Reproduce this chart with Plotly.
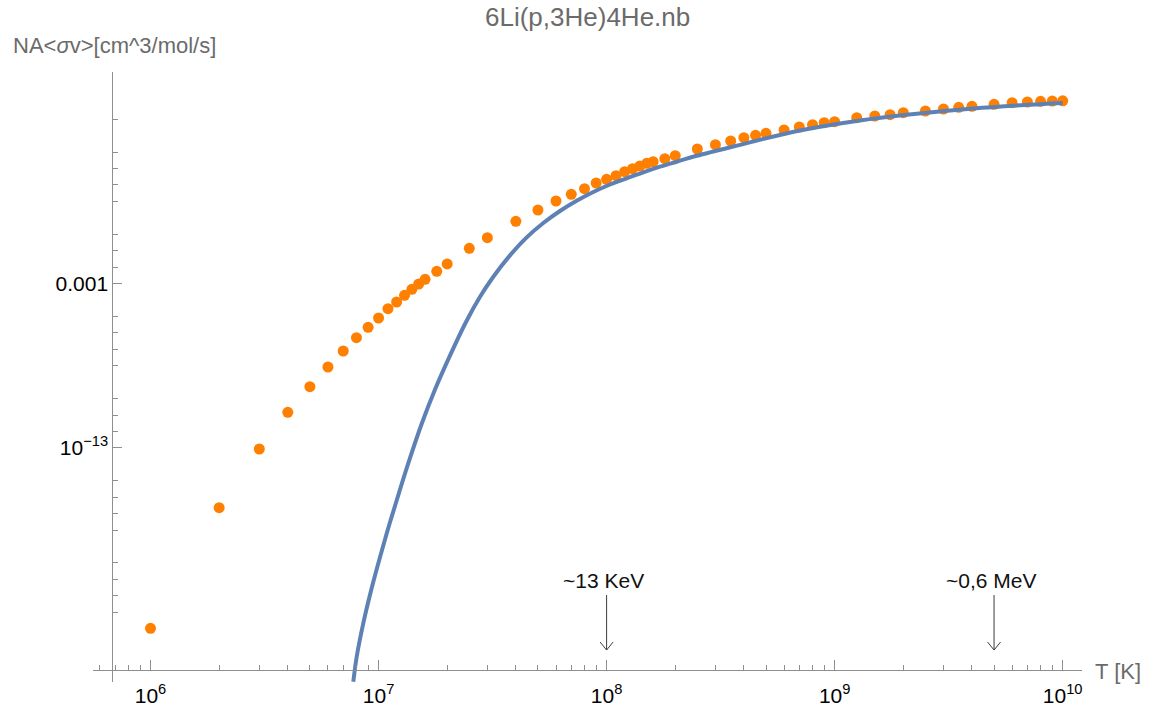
import numpy as np
import plotly.graph_objects as go

# Tabulated reaction rate NA<σv> [cm^3/mol/s] versus temperature T [K]
T_table = [1e6, 2e6, 3e6, 4e6, 5e6, 6e6, 7e6, 8e6, 9e6,
           1.0e7, 1.1e7, 1.2e7, 1.3e7, 1.4e7, 1.5e7, 1.6e7, 1.8e7, 2.0e7, 2.5e7,
           3e7, 4e7, 5e7, 6e7, 7e7, 8e7, 9e7,
           1.0e8, 1.1e8, 1.2e8, 1.3e8, 1.4e8, 1.5e8, 1.6e8, 1.8e8, 2.0e8, 2.5e8,
           3.0e8, 3.5e8, 4.0e8, 4.5e8, 5e8, 6e8, 7e8, 8e8, 9e8,
           1.0e9, 1.25e9, 1.5e9, 1.75e9, 2.0e9, 2.5e9, 3.0e9, 3.5e9, 4.0e9,
           5e9, 6e9, 7e9, 8e9, 9e9, 1e10]
rate_table = [1.05e-24, 2.3e-17, 8.6e-14, 1.47e-11, 5.3e-10, 8.4e-9, 7.9e-8, 5.1e-7, 2.19e-6,
              8.05e-6, 2.96e-5, 7.57e-5, 1.94e-4, 4.49e-4, 9.44e-4, 1.82e-3, 5.6e-3, 1.56e-2, 0.140,
              0.619, 6.17, 30.1, 106, 271, 594, 1320,
              2220, 3670, 6440, 9800, 1.43e4, 2.09e4, 2.61e4, 3.98e4, 6.05e4, 1.55e5,
              2.83e5, 4.75e5, 7.55e5, 1.06e6, 1.40e6, 2.22e6, 3.38e6, 4.67e6, 6.17e6,
              7.10e6, 1.24e7, 1.58e7, 1.89e7, 2.51e7, 3.18e7, 4.21e7, 5.33e7, 6.14e7,
              8.13e7, 1.02e8, 1.12e8, 1.24e8, 1.28e8, 1.32e8]

# Fitted rate curve, sampled along T
T_fit = [7.75e6, 8.02e6, 8.57e6, 9.285e6, 1.016e7, 1.119e7, 1.240e7, 1.380e7, 1.549e7,
         1.765e7, 2.047e7, 2.418e7, 2.786e7, 3.186e7, 3.771e7, 4.463e7, 5.278e7, 6.247e7,
         7.392e7, 8.745e7, 1.035e8, 1.225e8, 1.448e8, 1.715e8, 2.030e8, 2.484e8, 3.594e8,
         7.047e8, 1.292e9, 2.070e9, 4.055e9, 7.95e9, 1e10]
rate_fit = [5.93e-28, 1.97e-26, 2.12e-24, 2.26e-22, 2.40e-20, 2.59e-18, 2.75e-16, 2.92e-14, 3.15e-12,
            3.34e-10, 3.56e-8, 4.59e-6, 1.57e-4, 2.59e-3, 5.19e-2, 0.647, 4.86, 26.1,
            109, 374, 1070, 2550, 5920, 1.30e4, 2.61e4, 5.97e4, 2.20e5,
            2.07e6, 8.40e6, 1.87e7, 4.51e7, 8.24e7, 9.75e7]

x_ticks = [1e6, 1e7, 1e8, 1e9, 1e10]
x_tick_text = ["10<sup>6</sup>", "10<sup>7</sup>", "10<sup>8</sup>", "10<sup>9</sup>", "10<sup>10</sup>"]
x_minor = [m * 10 ** k for k in range(5, 10) for m in range(2, 10)]

y_ticks = [1e-13, 1e-3]
y_tick_text = ["10<sup>\u221213</sup>", "0.001"]
y_minor_exp = [-23, -22, -21, -20, -18, -17, -16, -15, -12, -11, -10, -8, -7, -6, -5,
               -2, -1, 0, 2, 3, 4, 5, 7]
y_minor = [10.0 ** e for e in y_minor_exp]

# Energy markers on the temperature axis
marker_T = [1e8, 5e9]
marker_text = ["~13 KeV", "~0,6 MeV"]
arrow_tip = 10 ** -25.3

# Page geometry
W, H = 1155, 711
ML, MR, MT, MB = 93, 73, 72, 29
PW, PH = W - ML - MR, H - MT - MB


def px(x):
    return (x - ML) / PW


def py(y):
    return (H - MB - y) / PH


FONT = "Liberation Sans, Arial, Helvetica, sans-serif"
AXIS_GREY = "#8f8f8f"
LABEL_GREY = "#6b6b6b"

fig = go.Figure()
fig.add_trace(go.Scatter(
    x=T_table, y=rate_table, mode="markers",
    marker=dict(color="#FF8000", size=11, line=dict(width=0)),
    showlegend=False, cliponaxis=False,
))
fig.add_trace(go.Scatter(
    x=T_fit, y=rate_fit, mode="lines",
    line=dict(color="#5E81B5", width=4, shape="spline", smoothing=1.0),
    showlegend=False,
))

shapes = []
annotations = []
for T, label in zip(marker_T, marker_text):
    shapes.append(dict(
        type="path", xref="x", yref="y", xsizemode="pixel", ysizemode="pixel",
        xanchor=T, yanchor=arrow_tip,
        path="M0,0 L0,55 M-6.5,8 L0,0 L6.5,8",
        line=dict(color="#3c3c3c", width=1),
    ))
    annotations.append(dict(
        x=np.log10(T), y=np.log10(arrow_tip), xref="x", yref="y",
        text=label, showarrow=False, xanchor="center", yanchor="middle",
        xshift=-3, yshift=70, font=dict(family=FONT, size=21, color="#111111"),
    ))

annotations.append(dict(
    x=px(11), y=py(45.5), xref="paper", yref="paper",
    text="NA&lt;<i>σ</i>v&gt;[cm^3/mol/s]", showarrow=False,
    xanchor="left", yanchor="middle", font=dict(family=FONT, size=22, color=LABEL_GREY),
))
annotations.append(dict(
    x=px(1093), y=py(671), xref="paper", yref="paper",
    text="T [K]", showarrow=False,
    xanchor="left", yanchor="middle", font=dict(family=FONT, size=22, color=LABEL_GREY),
))
annotations.append(dict(
    x=0.5, y=py(17), xref="paper", yref="paper",
    text="6Li(p,3He)4He.nb", showarrow=False,
    xanchor="center", yanchor="middle", font=dict(family=FONT, size=26, color=LABEL_GREY),
))

x_lo = 6 + (ML - 150.5) / 228.05
x_hi = 6 + (W - MR - 150.5) / 228.05
y_hi = -8 + (365.75 - MT) / 16.433
y_lo = -8 + (365.75 - (H - MB)) / 16.433

fig.update_layout(
    width=W, height=H, autosize=False,
    margin=dict(l=ML, r=MR, t=MT, b=MB, pad=0, autoexpand=False),
    paper_bgcolor="white", plot_bgcolor="white",
    font=dict(family=FONT, size=21, color="black"),
    shapes=shapes, annotations=annotations,
    xaxis=dict(
        type="log", range=[x_lo, x_hi], anchor="free", position=py(670.3), automargin=False,
        showgrid=False, zeroline=False, showline=True, linecolor=AXIS_GREY, linewidth=1,
        ticks="inside", ticklen=10, tickwidth=1, tickcolor=AXIS_GREY,
        tickmode="array", tickvals=x_ticks, ticktext=x_tick_text,
        tickfont=dict(family=FONT, size=21, color="black"), ticklabelstandoff=6,
        minor=dict(tickmode="array", tickvals=x_minor, ticks="inside", ticklen=5,
                   tickwidth=1, tickcolor=AXIS_GREY, showgrid=False),
    ),
    yaxis=dict(
        type="log", range=[y_lo, y_hi], anchor="free", position=px(112.3), automargin=False,
        showgrid=False, zeroline=False, showline=True, linecolor=AXIS_GREY, linewidth=1,
        ticks="inside", ticklen=9, tickwidth=1, tickcolor=AXIS_GREY,
        tickmode="array", tickvals=y_ticks, ticktext=y_tick_text,
        tickfont=dict(family=FONT, size=21, color="black"),
        minor=dict(tickmode="array", tickvals=y_minor, ticks="inside", ticklen=5,
                   tickwidth=1, tickcolor=AXIS_GREY, showgrid=False),
    ),
)

fig.write_html("out.html")
